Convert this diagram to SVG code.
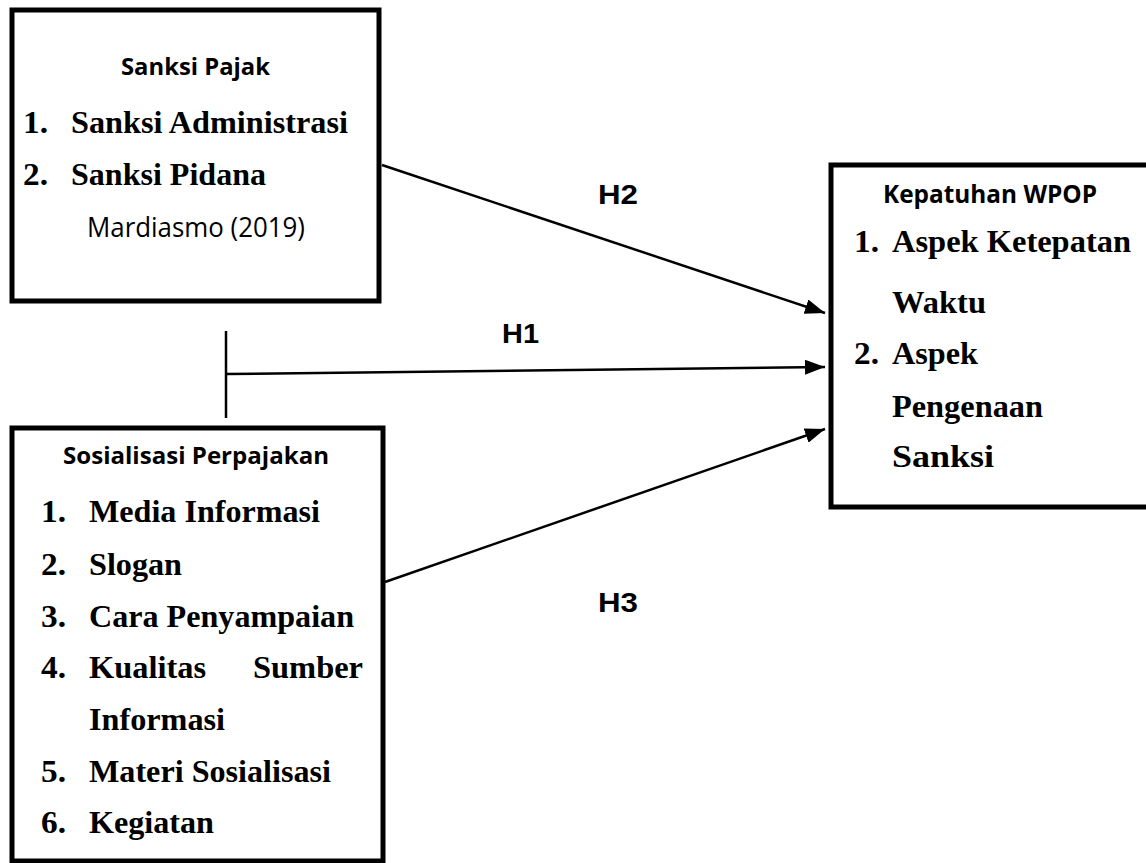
<svg xmlns="http://www.w3.org/2000/svg" width="1146" height="863" viewBox="0 0 1146 863">
<style>
.box{fill:#fff;stroke:#000;stroke-width:5}
.ttl{font-family:"Open Sans",Lato,sans-serif;font-weight:bold;fill:#000}
.src{font-family:"Open Sans",Lato,sans-serif;font-weight:normal;fill:#000}
.it{font-family:"Liberation Serif","Times New Roman",serif;font-weight:bold;font-size:32px;fill:#000}
.h{font-family:"Liberation Sans",Arial,sans-serif;font-weight:bold;font-size:28px;fill:#000}
.ln{stroke:#000;stroke-width:2.5;fill:none}
</style>
<defs>
<marker id="arr" markerWidth="8" markerHeight="6" refX="8" refY="3" orient="auto" markerUnits="strokeWidth">
<path d="M0,0 L8,3 L0,6 Z" fill="#000"/>
</marker>
</defs>
<rect width="1146" height="863" fill="#fff"/>
<g id="connectors">
<line class="ln" x1="226" y1="331" x2="226" y2="418"/>
<line class="ln" x1="226" y1="374" x2="825" y2="367" marker-end="url(#arr)"/>
<line class="ln" x1="382" y1="165" x2="825" y2="313" marker-end="url(#arr)"/>
<line class="ln" x1="385" y1="582" x2="825" y2="429" marker-end="url(#arr)"/>
<text class="h" x="598" y="204" textLength="40" lengthAdjust="spacingAndGlyphs">H2</text>
<text class="h" x="502" y="343" textLength="37" lengthAdjust="spacingAndGlyphs">H1</text>
<text class="h" x="598" y="612" textLength="40" lengthAdjust="spacingAndGlyphs">H3</text>
</g>
<g id="sanksi-pajak">
<rect class="box" x="12" y="10" width="367" height="291"/>
<text class="ttl" x="121" y="75" font-size="23" textLength="149" lengthAdjust="spacingAndGlyphs">Sanksi Pajak</text>
<text class="it" x="23" y="133" textLength="25" lengthAdjust="spacingAndGlyphs">1.</text>
<text class="it" x="71" y="133" textLength="277" lengthAdjust="spacingAndGlyphs">Sanksi Administrasi</text>
<text class="it" x="23" y="185" textLength="25" lengthAdjust="spacingAndGlyphs">2.</text>
<text class="it" x="71" y="185" textLength="195" lengthAdjust="spacingAndGlyphs">Sanksi Pidana</text>
<text class="src" x="87" y="237" font-size="27" textLength="218" lengthAdjust="spacingAndGlyphs">Mardiasmo (2019)</text>
</g>
<g id="sosialisasi-perpajakan">
<rect class="box" x="12" y="428" width="371" height="433"/>
<text class="ttl" x="63" y="464" font-size="23" textLength="266" lengthAdjust="spacingAndGlyphs">Sosialisasi Perpajakan</text>
<text class="it" x="41" y="522" textLength="25" lengthAdjust="spacingAndGlyphs">1.</text>
<text class="it" x="89" y="522" textLength="231" lengthAdjust="spacingAndGlyphs">Media Informasi</text>
<text class="it" x="41" y="575" textLength="25" lengthAdjust="spacingAndGlyphs">2.</text>
<text class="it" x="89" y="575" textLength="93" lengthAdjust="spacingAndGlyphs">Slogan</text>
<text class="it" x="41" y="627" textLength="25" lengthAdjust="spacingAndGlyphs">3.</text>
<text class="it" x="89" y="627" textLength="265" lengthAdjust="spacingAndGlyphs">Cara Penyampaian</text>
<text class="it" x="41" y="678" textLength="25" lengthAdjust="spacingAndGlyphs">4.</text>
<text class="it" x="89" y="678" textLength="117" lengthAdjust="spacingAndGlyphs">Kualitas</text>
<text class="it" x="253" y="678" textLength="110" lengthAdjust="spacingAndGlyphs">Sumber</text>
<text class="it" x="89" y="730" textLength="136" lengthAdjust="spacingAndGlyphs">Informasi</text>
<text class="it" x="41" y="782" textLength="25" lengthAdjust="spacingAndGlyphs">5.</text>
<text class="it" x="89" y="782" textLength="242" lengthAdjust="spacingAndGlyphs">Materi Sosialisasi</text>
<text class="it" x="41" y="833" textLength="25" lengthAdjust="spacingAndGlyphs">6.</text>
<text class="it" x="89" y="833" textLength="125" lengthAdjust="spacingAndGlyphs">Kegiatan</text>
</g>
<g id="kepatuhan-wpop">
<rect class="box" x="831" y="165" width="320" height="342"/>
<text class="ttl" x="883" y="203" font-size="25" textLength="214" lengthAdjust="spacingAndGlyphs">Kepatuhan WPOP</text>
<text class="it" x="854" y="252" textLength="25" lengthAdjust="spacingAndGlyphs">1.</text>
<text class="it" x="892" y="252" textLength="239" lengthAdjust="spacingAndGlyphs">Aspek Ketepatan</text>
<text class="it" x="892" y="313" textLength="94" lengthAdjust="spacingAndGlyphs">Waktu</text>
<text class="it" x="854" y="364" textLength="25" lengthAdjust="spacingAndGlyphs">2.</text>
<text class="it" x="892" y="364" textLength="86" lengthAdjust="spacingAndGlyphs">Aspek</text>
<text class="it" x="892" y="417" textLength="151" lengthAdjust="spacingAndGlyphs">Pengenaan</text>
<text class="it" x="892" y="467" textLength="102" lengthAdjust="spacingAndGlyphs">Sanksi</text>
</g>
</svg>
